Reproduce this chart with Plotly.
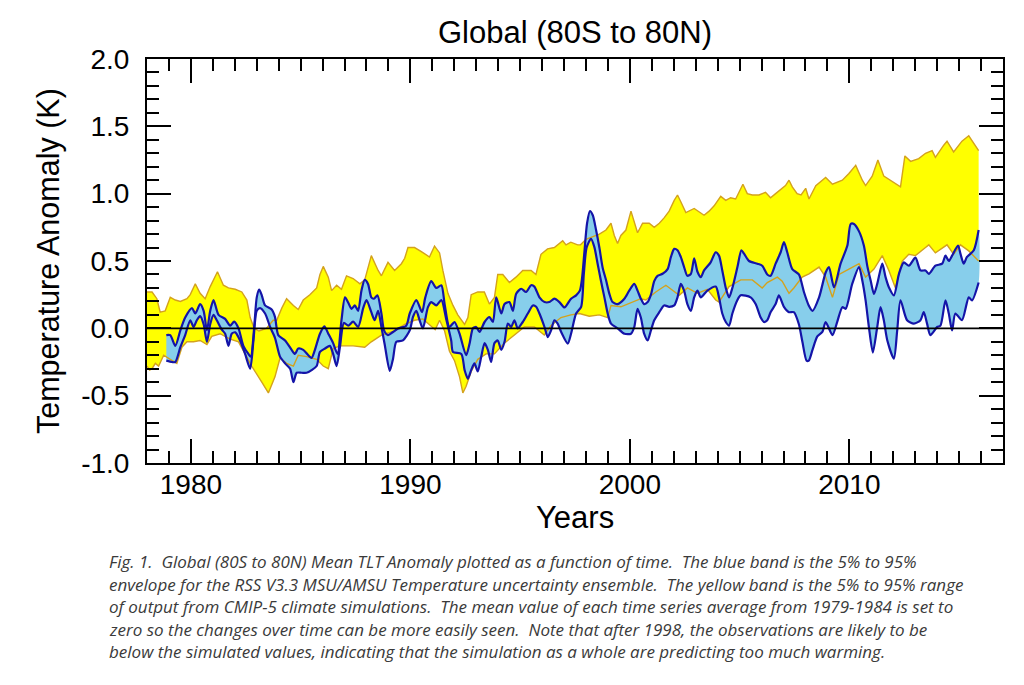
import plotly.graph_objects as go

# ---------------- data ----------------
yu_x = [1978.0, 1978.23, 1978.45, 1978.6, 1978.83, 1979.06, 1979.29, 1979.52, 1979.82, 1979.97,
        1980.2, 1980.42, 1980.65, 1980.88, 1981.21, 1981.48, 1981.71, 1982.02, 1982.32, 1982.55,
        1982.7, 1982.88, 1983.1, 1983.44, 1983.75, 1983.91, 1984.14, 1984.36, 1984.67, 1984.89,
        1985.12, 1985.42, 1985.73, 1985.88, 1986.03, 1986.26, 1986.41, 1986.64, 1986.86, 1987.09,
        1987.39, 1987.7, 1987.92, 1988.22, 1988.53, 1988.68, 1988.98, 1989.28, 1989.59, 1989.74,
        1989.89, 1990.19, 1990.5, 1990.87, 1991.1, 1991.33, 1991.48, 1991.71, 1991.94, 1992.16,
        1992.47, 1992.62, 1992.77, 1993.07, 1993.37, 1993.6, 1993.83, 1993.98, 1994.21, 1994.51,
        1994.81, 1995.12, 1995.5, 1995.72, 1995.95, 1996.25, 1996.56, 1996.94, 1997.09, 1997.31,
        1997.62, 1997.75, 1998.0, 1998.3, 1998.61, 1998.91, 1999.14, 1999.29, 1999.44, 1999.59,
        1999.82, 2000.05, 2000.2, 2000.35, 2000.58, 2000.88, 2001.11, 2001.34, 2001.56, 2001.79,
        2002.02, 2002.17, 2002.32, 2002.55, 2002.93, 2003.38, 2003.61, 2003.84, 2004.14, 2004.37,
        2004.59, 2004.82, 2005.15, 2005.35, 2005.58, 2005.88, 2006.18, 2006.41, 2006.64, 2006.87,
        2007.09, 2007.25, 2007.4, 2007.62, 2007.8, 2008.01, 2008.16, 2008.47, 2008.92, 2009.23,
        2009.68, 2009.98, 2010.29, 2010.59, 2010.74, 2011.04, 2011.3, 2011.57, 2011.88, 2012.18,
        2012.33, 2012.53, 2012.79, 2013.16, 2013.47, 2013.77, 2013.92, 2014.3, 2014.45, 2014.75,
        2015.13, 2015.44, 2015.59, 2015.89]
yu_v = [0.27, 0.27, 0.22, 0.12, 0.13, 0.23, 0.21, 0.20, 0.22, 0.25,
        0.33, 0.26, 0.22, 0.31, 0.42, 0.32, 0.30, 0.29, 0.27, 0.21,
        0.08, 0.0, -0.02, 0.0, 0.06, 0.06, 0.15, 0.22, 0.17, 0.14,
        0.21, 0.25, 0.30, 0.40, 0.46, 0.38, 0.28, 0.32, 0.29, 0.39,
        0.37, 0.33, 0.36, 0.54, 0.43, 0.39, 0.49, 0.43, 0.48, 0.52,
        0.60, 0.60, 0.57, 0.53, 0.61, 0.56, 0.43, 0.26, 0.17, 0.10,
        0.03, 0.08, 0.25, 0.27, 0.27, 0.18, 0.23, 0.40, 0.40, 0.34,
        0.38, 0.43, 0.43, 0.40, 0.55, 0.59, 0.60, 0.65, 0.62, 0.64,
        0.62, 0.62, 0.66, 0.68, 0.70, 0.73, 0.78, 0.69, 0.63, 0.69,
        0.73, 0.87, 0.79, 0.71, 0.78, 0.78, 0.75, 0.78, 0.82, 0.87,
        0.95, 0.99, 0.94, 0.86, 0.89, 0.84, 0.87, 0.91, 0.98, 0.95,
        0.97, 0.96, 1.07, 1.00, 0.99, 0.99, 1.01, 0.97, 1.00, 1.03,
        1.06, 1.10, 1.05, 1.00, 0.99, 1.04, 0.96, 1.06, 1.12, 1.07,
        1.10, 1.15, 1.21, 1.10, 1.06, 1.13, 1.25, 1.13, 1.10, 1.07,
        1.05, 1.28, 1.24, 1.26, 1.30, 1.32, 1.27, 1.36, 1.39, 1.31,
        1.39, 1.43, 1.39, 1.32]

yl_x = [1978.0, 1978.12, 1978.23, 1978.38, 1978.53, 1978.76, 1979.06, 1979.36, 1979.59, 1979.82,
        1980.12, 1980.42, 1980.73, 1980.95, 1981.33, 1981.79, 1982.17, 1982.47, 1982.77, 1983.23,
        1983.53, 1983.83, 1984.06, 1984.36, 1984.67, 1984.89, 1985.27, 1985.73, 1986.03, 1986.26,
        1986.48, 1986.79, 1987.39, 1987.92, 1988.22, 1988.68, 1989.28, 1989.74, 1990.19, 1990.57,
        1990.95, 1991.13, 1991.33, 1991.56, 1991.78, 1992.01, 1992.24, 1992.39, 1992.54, 1992.77,
        1993.07, 1993.45, 1993.83, 1994.28, 1994.74, 1995.19, 1995.65, 1996.1, 1996.4, 1996.86,
        1997.31, 1997.7, 1998.15, 1998.61, 1998.99, 1999.14, 1999.59, 2000.05, 2000.5, 2000.73,
        2001.18, 2001.64, 2002.09, 2002.25, 2002.62, 2003.08, 2003.53, 2003.91, 2004.06, 2004.52,
        2005.05, 2005.58, 2006.03, 2006.26, 2006.72, 2006.94, 2007.25, 2007.47, 2007.85, 2008.16,
        2008.62, 2008.92, 2009.23, 2009.53, 2009.98, 2010.44, 2010.74, 2011.12, 2011.5, 2011.8,
        2012.1, 2012.41, 2012.71, 2013.01, 2013.47, 2013.62, 2013.92, 2014.45, 2014.75, 2015.06,
        2015.44, 2015.89]
yl_v = [-0.28, -0.31, -0.30, -0.26, -0.28, -0.20, -0.23, -0.26, -0.14, -0.10,
        -0.10, -0.09, -0.12, -0.06, -0.04, -0.08, -0.10, -0.19, -0.28, -0.40,
        -0.48, -0.36, -0.22, -0.26, -0.28, -0.20, -0.21, -0.23, -0.28, -0.30,
        -0.15, -0.13, -0.13, -0.14, -0.10, -0.05, -0.02, 0.03, 0.06, 0.07,
        0.02, -0.01, 0.06, -0.02, -0.17, -0.24, -0.36, -0.48, -0.43, -0.32,
        -0.23, -0.19, -0.19, -0.11, -0.05, 0.01, 0.01, -0.05, 0.02, 0.08,
        0.10, 0.11, 0.09, 0.10, 0.08, 0.17, 0.16, 0.19, 0.22, 0.21,
        0.27, 0.32, 0.26, 0.245, 0.30, 0.26, 0.29, 0.21, 0.195, 0.31,
        0.36, 0.36, 0.30, 0.34, 0.38, 0.35, 0.26, 0.30, 0.38, 0.405,
        0.455, 0.38, 0.23, 0.40, 0.44, 0.48, 0.38, 0.44, 0.54, 0.43,
        0.30, 0.50, 0.55, 0.54, 0.60, 0.62, 0.56, 0.62, 0.55, 0.62,
        0.575, 0.50]

bu_x = [1978.88, 1979.06, 1979.29, 1979.52, 1979.74, 1980.05, 1980.2, 1980.42, 1980.58, 1980.73,
        1980.88, 1981.03, 1981.26, 1981.56, 1981.79, 1981.97, 1982.17, 1982.39, 1982.62, 1982.73,
        1982.88, 1983.0, 1983.11, 1983.23, 1983.38, 1983.68, 1983.83, 1983.98, 1984.29, 1984.59,
        1984.74, 1984.89, 1985.12, 1985.35, 1985.5, 1985.65, 1985.88, 1986.08, 1986.26, 1986.48,
        1986.68, 1986.86, 1987.02, 1987.17, 1987.32, 1987.47, 1987.62, 1987.77, 1987.92, 1988.07,
        1988.22, 1988.34, 1988.5, 1988.68, 1988.8, 1988.98, 1989.21, 1989.44, 1989.81, 1989.97,
        1990.27, 1990.53, 1990.68, 1990.95, 1991.18, 1991.41, 1991.56, 1991.78, 1992.01, 1992.24,
        1992.54, 1992.7, 1992.85, 1993.0, 1993.15, 1993.38, 1993.6, 1993.76, 1993.91, 1994.14,
        1994.29, 1994.51, 1994.67, 1994.82, 1995.05, 1995.27, 1995.5, 1995.65, 1995.88, 1996.11,
        1996.33, 1996.56, 1996.79, 1997.02, 1997.32, 1997.55, 1997.72, 1997.82, 1997.93, 1998.05,
        1998.18, 1998.31, 1998.46, 1998.61, 1998.76, 1998.91, 1999.06, 1999.21, 1999.44, 1999.75,
        1999.97, 2000.2, 2000.35, 2000.5, 2000.65, 2000.81, 2000.96, 2001.11, 2001.26, 2001.49,
        2001.72, 2001.87, 2002.02, 2002.17, 2002.32, 2002.47, 2002.62, 2002.78, 2002.93, 2003.08,
        2003.23, 2003.38, 2003.68, 2003.91, 2004.06, 2004.21, 2004.37, 2004.52, 2004.67, 2004.9,
        2005.08, 2005.2, 2005.43, 2005.81, 2006.03, 2006.26, 2006.41, 2006.64, 2006.87, 2007.02,
        2007.17, 2007.4, 2007.7, 2007.93, 2008.15, 2008.32, 2008.62, 2008.92, 2009.07, 2009.3,
        2009.6, 2009.91, 2010.06, 2010.21, 2010.44, 2010.66, 2010.82, 2010.97, 2011.12, 2011.27,
        2011.5, 2011.65, 2011.8, 2012.03, 2012.26, 2012.48, 2012.71, 2013.01, 2013.24, 2013.47,
        2013.62, 2013.92, 2014.23, 2014.38, 2014.53, 2014.68, 2014.95, 2015.06, 2015.21, 2015.36,
        2015.67, 2015.89]
bu_v = [-0.05, -0.05, -0.13, -0.015, 0.08, 0.15, 0.11, 0.18, 0.13, -0.015,
        0.13, 0.21, 0.10, 0.07, 0.02, 0.05, 0.0, -0.13, -0.19, -0.21,
        0.0, 0.23, 0.287, 0.245, 0.17, 0.14, 0.085, -0.05, -0.09, -0.16,
        -0.19, -0.15, -0.16, -0.20, -0.22, -0.16, -0.04, 0.015, -0.04, -0.11,
        -0.19, 0.06, 0.23, 0.19, 0.145, 0.17, 0.13, 0.28, 0.36, 0.33,
        0.23, 0.22, 0.245, 0.11, -0.015, -0.05, -0.027, -0.002, 0.02, 0.11,
        0.21, 0.12, 0.23, 0.35, 0.30, 0.32, 0.18, 0.01, 0.047, -0.04,
        -0.20, -0.11, 0.0, 0.01, -0.027, 0.047, 0.084, 0.047, 0.23, 0.11,
        0.18, 0.195, 0.13, 0.257, 0.294, 0.27, 0.32, 0.31, 0.23, 0.195,
        0.195, 0.22, 0.195, 0.155, 0.22, 0.245, 0.28, 0.37, 0.57, 0.78,
        0.87, 0.84, 0.73, 0.60, 0.45, 0.36, 0.26, 0.195, 0.18, 0.22,
        0.28, 0.33, 0.28, 0.22, 0.18, 0.195, 0.25, 0.35, 0.39, 0.405,
        0.44, 0.53, 0.59, 0.58, 0.53, 0.455, 0.39, 0.405, 0.52, 0.42,
        0.38, 0.43, 0.49, 0.565, 0.54, 0.43, 0.30, 0.23, 0.30, 0.455,
        0.58, 0.555, 0.50, 0.48, 0.465, 0.40, 0.39, 0.48, 0.565, 0.64,
        0.565, 0.44, 0.40, 0.27, 0.17, 0.13, 0.23, 0.415, 0.455, 0.305,
        0.48, 0.615, 0.775, 0.775, 0.72, 0.615, 0.46, 0.355, 0.255, 0.33,
        0.48, 0.38, 0.305, 0.245, 0.405, 0.49, 0.465, 0.525, 0.43, 0.43,
        0.405, 0.465, 0.48, 0.54, 0.50, 0.54, 0.615, 0.555, 0.48, 0.53,
        0.58, 0.73]

bl_x = [1978.88, 1979.14, 1979.29, 1979.52, 1979.74, 1979.97, 1980.12, 1980.27, 1980.42, 1980.58,
        1980.73, 1980.88, 1981.03, 1981.18, 1981.41, 1981.56, 1981.71, 1981.86, 1982.02, 1982.24,
        1982.47, 1982.7, 1982.85, 1983.0, 1983.15, 1983.38, 1983.61, 1983.83, 1984.06, 1984.29,
        1984.52, 1984.67, 1984.82, 1985.05, 1985.27, 1985.5, 1985.73, 1985.88, 1986.11, 1986.33,
        1986.48, 1986.64, 1986.79, 1986.97, 1987.17, 1987.39, 1987.62, 1987.85, 1988.0, 1988.22,
        1988.37, 1988.53, 1988.68, 1988.83, 1989.06, 1989.21, 1989.36, 1989.66, 1989.97, 1990.12,
        1990.27, 1990.42, 1990.57, 1990.8, 1990.95, 1991.18, 1991.41, 1991.63, 1991.86, 1991.94,
        1992.32, 1992.47, 1992.62, 1992.77, 1992.92, 1993.07, 1993.23, 1993.38, 1993.53, 1993.68,
        1993.83, 1993.98, 1994.14, 1994.29, 1994.44, 1994.59, 1994.74, 1994.89, 1995.12, 1995.35,
        1995.58, 1995.73, 1995.88, 1996.11, 1996.26, 1996.41, 1996.56, 1996.71, 1996.87, 1997.17,
        1997.32, 1997.55, 1997.78, 1997.9, 1998.03, 1998.23, 1998.38, 1998.53, 1998.68, 1998.84,
        1998.99, 1999.14, 1999.44, 1999.75, 2000.05, 2000.2, 2000.35, 2000.5, 2000.65, 2000.81,
        2000.96, 2001.11, 2001.34, 2001.56, 2001.79, 2002.02, 2002.17, 2002.32, 2002.47, 2002.62,
        2002.78, 2002.93, 2003.08, 2003.23, 2003.53, 2003.91, 2004.06, 2004.21, 2004.37, 2004.52,
        2004.67, 2004.9, 2005.05, 2005.5, 2005.73, 2005.96, 2006.11, 2006.26, 2006.41, 2006.64,
        2006.79, 2007.02, 2007.25, 2007.47, 2007.7, 2007.86, 2008.05, 2008.15, 2008.32, 2008.54,
        2008.77, 2008.92, 2009.23, 2009.45, 2009.68, 2009.83, 2010.13, 2010.44, 2010.59, 2010.74,
        2010.89, 2011.07, 2011.27, 2011.42, 2011.57, 2011.73, 2012.03, 2012.18, 2012.33, 2012.63,
        2012.94, 2013.24, 2013.39, 2013.54, 2013.69, 2014.0, 2014.15, 2014.38, 2014.53, 2014.68,
        2014.83, 2015.13, 2015.44, 2015.59, 2015.89]
bl_v = [-0.24, -0.25, -0.25, -0.14, -0.05, 0.06, 0.01, 0.06, 0.09, 0.03,
        -0.10, 0.03, 0.10, 0.06, -0.01, -0.04, -0.13, -0.04, -0.03, -0.09,
        -0.19, -0.30, -0.09, 0.13, 0.15, 0.11, 0.01, -0.07, -0.21, -0.26,
        -0.30, -0.40, -0.33, -0.33, -0.33, -0.31, -0.28, -0.175, -0.15, -0.13,
        -0.19, -0.28, -0.14, 0.04, 0.02, 0.05, 0.01, 0.15, 0.21, 0.12,
        0.06, 0.13, 0.01, -0.12, -0.316, -0.225, -0.10, -0.09, -0.015, 0.085,
        0.13, 0.06, 0.0, 0.157, 0.195, 0.17, 0.21, 0.07, -0.09, -0.175,
        -0.19, -0.31, -0.375, -0.31, -0.26, -0.32, -0.21, -0.11, -0.16, -0.25,
        -0.11, -0.09, -0.16, -0.10, 0.035, 0.01, 0.06, 0.0, 0.047, 0.11,
        0.17, 0.16, 0.11, 0.01, -0.065, -0.015, 0.06, 0.035, -0.027, -0.113,
        -0.04, 0.11, 0.16, 0.40, 0.60, 0.665, 0.605, 0.48, 0.355, 0.23,
        0.11, 0.035, 0.0, -0.04, -0.04, 0.01, 0.145, 0.08, -0.04, -0.09,
        -0.015, 0.06, 0.12, 0.17, 0.16, 0.17, 0.23, 0.33, 0.28, 0.18,
        0.13, 0.23, 0.28, 0.23, 0.28, 0.31, 0.23, 0.11, 0.047, 0.02,
        0.11, 0.21, 0.245, 0.23, 0.18, 0.08, 0.047, 0.06, 0.12, 0.18,
        0.245, 0.16, 0.12, 0.12, 0.03, -0.10, -0.24, -0.24, -0.16, -0.06,
        -0.027, 0.047, -0.05, 0.05, 0.157, 0.145, 0.33, 0.455, 0.355, 0.207,
        0.01, -0.18, 0.01, 0.157, 0.06, -0.09, -0.225, -0.015, 0.207, 0.06,
        0.035, 0.06, 0.12, 0.035, -0.05, 0.01, 0.02, 0.207, 0.11, -0.015,
        0.11, 0.06, 0.23, 0.207, 0.34]

x_tickvals = [1980, 1990, 2000, 2010]
x_ticktext = ["1980", "1990", "2000", "2010"]
y_tickvals = [-1.0, -0.5, 0.0, 0.5, 1.0, 1.5, 2.0]
y_ticktext = ["-1.0", "-0.5", "0.0", "0.5", "1.0", "1.5", "2.0"]
x_range = [1978, 2017]
y_range = [-1.0, 2.0]

title_text = "Global (80S to 80N)"
x_title = "Years"
y_title = "Temperature Anomaly (K)"
caption_lines = [
    "Fig. 1. \u00a0Global (80S to 80N) Mean TLT Anomaly plotted as a function of time. \u00a0The blue band is the 5% to 95%",
    "envelope for the RSS V3.3 MSU/AMSU Temperature uncertainty ensemble. \u00a0The yellow band is the 5% to 95% range",
    "of output from CMIP-5 climate simulations. \u00a0The mean value of each time series average from 1979-1984 is set to",
    "zero so the changes over time can be more easily seen. \u00a0Note that after 1998, the observations are likely to be",
    "below the simulated values, indicating that the simulation as a whole are predicting too much warming.",
]

# ---------------- layout geometry ----------------
# The page body has an 8px default margin, so figure coords = page coords - 8.
OFF = 8
W, H = 1024 - OFF, 685 - 2 * OFF
P_LEFT, P_RIGHT, P_TOP, P_BOT = 147, 1003, 59, 463      # plot box in page pixels
ML, MT = P_LEFT - OFF, P_TOP - OFF
MR = W - (P_RIGHT - OFF)
MB = H - (P_BOT - OFF)
PW, PH = W - ML - MR, H - MT - MB


def px(xp):
    """page x pixel -> paper coordinate"""
    return (xp - OFF - ML) / PW


def py(yp):
    """page y pixel -> paper coordinate"""
    return (H - MB - (yp - OFF)) / PH


YELLOW = "#FFFF00"
GOLD = "#D4A21C"
SKY = "#87CEEB"
NAVY = "#1414A8"
SANS = "Liberation Sans, Arial, sans-serif"

fig = go.Figure()

# yellow band (CMIP-5 5-95%)
fig.add_trace(go.Scatter(
    x=yu_x + yl_x[::-1], y=yu_v + yl_v[::-1], fill="toself", fillcolor=YELLOW,
    mode="lines", line=dict(width=0, color=YELLOW), hoverinfo="skip", showlegend=False))
# blue band (RSS ensemble 5-95%)
fig.add_trace(go.Scatter(
    x=bu_x + bl_x[::-1], y=bu_v + bl_v[::-1], fill="toself", fillcolor=SKY,
    mode="lines", line=dict(width=0, color=SKY, shape="spline", smoothing=0.7),
    hoverinfo="skip", showlegend=False))
# yellow band edges
for xs, vs in ((yu_x, yu_v), (yl_x, yl_v)):
    fig.add_trace(go.Scatter(x=xs, y=vs, mode="lines", line=dict(color=GOLD, width=1.4),
                             hoverinfo="skip", showlegend=False))
# blue band edges
for xs, vs in ((bu_x, bu_v), (bl_x, bl_v)):
    fig.add_trace(go.Scatter(x=xs, y=vs, mode="lines",
                             line=dict(color=NAVY, width=2.2, shape="spline", smoothing=0.7),
                             hoverinfo="skip", showlegend=False))

fig.add_shape(type="line", xref="paper", x0=0, x1=1, yref="y", y0=0, y1=0,
              line=dict(color="black", width=1.6), layer="above")

axis_common = dict(
    showline=True, linecolor="black", linewidth=2, mirror="allticks",
    ticks="inside", ticklen=24, tickwidth=1.8, tickcolor="black",
    showgrid=False, zeroline=False,
    tickfont=dict(family=SANS, size=28, color="black"),
)

fig.update_xaxes(range=x_range, tickmode="array", tickvals=x_tickvals, ticktext=x_ticktext,
                 ticklabelstandoff=-5,
                 minor=dict(ticks="inside", ticklen=12, tickwidth=1.8, tickcolor="black", dtick=1,
                            showgrid=False),
                 **axis_common)
fig.update_yaxes(range=y_range, tickmode="array", tickvals=y_tickvals, ticktext=y_ticktext,
                 ticklabelstandoff=10,
                 minor=dict(ticks="inside", ticklen=12, tickwidth=1.8, tickcolor="black", dtick=0.1,
                            showgrid=False),
                 **axis_common)

annotations = [
    dict(text=title_text, x=px(575), y=py(33), xref="paper", yref="paper", showarrow=False,
         xanchor="center", yanchor="middle", font=dict(family=SANS, size=31, color="black")),
    dict(text=x_title, x=px(575), y=py(517), xref="paper", yref="paper", showarrow=False,
         xanchor="center", yanchor="middle", font=dict(family=SANS, size=31, color="black")),
    dict(text=y_title, x=px(48), y=py(261), xref="paper", yref="paper", showarrow=False,
         textangle=-90, xanchor="center", yanchor="middle",
         font=dict(family=SANS, size=30.5, color="black")),
]
cap_y = [561, 584, 606, 629, 651]
for line, yy in zip(caption_lines, cap_y):
    annotations.append(dict(text=line, x=px(107), y=py(yy), xref="paper", yref="paper",
                            showarrow=False, xanchor="left", yanchor="middle", align="left",
                            font=dict(family="Open Sans, sans-serif", size=17, color="#3a3a3a",
                                      style="italic")))

fig.update_layout(
    width=W, height=H, margin=dict(l=ML, r=MR, t=MT, b=MB, autoexpand=False),
    paper_bgcolor="white", plot_bgcolor="white", showlegend=False,
    annotations=annotations,
)

fig.write_html("out.html")
